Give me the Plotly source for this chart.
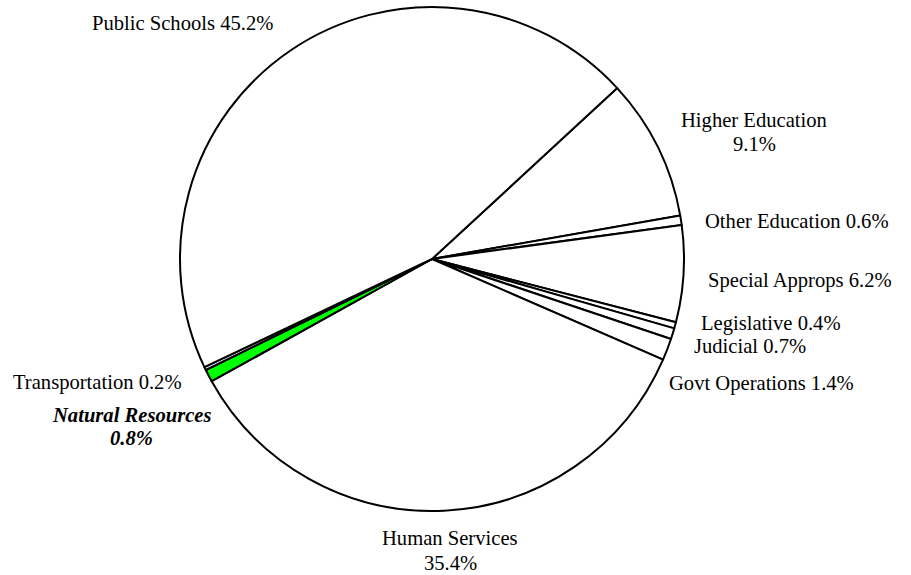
import plotly.graph_objects as go

# Budget shares by program area, listed clockwise starting from Higher Education
categories = ["Higher Education", "Other Education", "Special Approps", "Legislative",
              "Judicial", "Govt Operations", "Human Services", "Natural Resources",
              "Transportation", "Public Schools"]
shares = [9.1, 0.6, 6.2, 0.4, 0.7, 1.4, 35.4, 0.8, 0.2, 45.2]
slice_colors = ["white"] * 7 + ["#00ff00"] + ["white"] * 2

W, H = 911, 575

# Label placement in pixels: (x centre, y centre of each line, split into two lines?)
label_layout = {
    "Public Schools":    (182, [23], False),
    "Higher Education":  (754, [121, 144], True),
    "Other Education":   (797, [221], False),
    "Special Approps":   (800, [280], False),
    "Legislative":       (771, [323], False),
    "Judicial":          (750, [346], False),
    "Govt Operations":   (761, [383], False),
    "Transportation":    (97, [382], False),
    "Natural Resources": (131, [415, 438], True),
    "Human Services":    (450, [538, 563], True),
}
emphasised = {"Natural Resources"}

fig = go.Figure(go.Pie(
    labels=categories,
    values=shares,
    sort=False,
    direction="clockwise",
    rotation=47.3,
    textinfo="none",
    hoverinfo="label+percent",
    marker=dict(colors=slice_colors, line=dict(color="black", width=2)),
    domain=dict(x=[180 / W, 684 / W], y=[1 - 511 / H, 1 - 7 / H]),
    showlegend=False,
))

annotations = []
for name, value in zip(categories, shares):
    cx, ys, split = label_layout[name]
    pct = f"{value:.1f}%"
    lines = [name, pct] if split else [f"{name} {pct}"]
    for line, cy in zip(lines, ys):
        txt = f"<b><i>{line}</i></b>" if name in emphasised else line
        annotations.append(dict(
            x=cx / W, y=1 - cy / H, xref="paper", yref="paper",
            text=txt, showarrow=False, xanchor="center", yanchor="middle",
            font=dict(family="Liberation Serif", size=20.6, color="black"),
        ))

fig.update_layout(
    width=W, height=H,
    margin=dict(l=0, r=0, t=0, b=0),
    paper_bgcolor="white", plot_bgcolor="white",
    annotations=annotations,
)

fig.write_html("out.html")
